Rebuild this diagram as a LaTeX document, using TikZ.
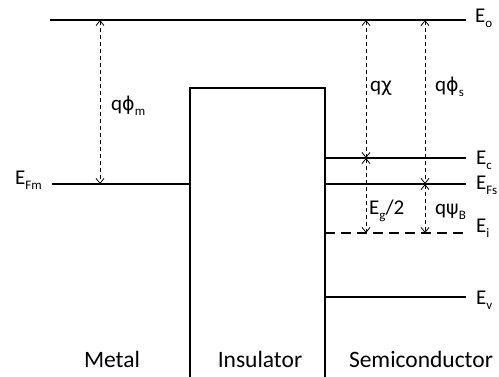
\documentclass[tikz,border=0pt]{standalone}
\usepackage{fontspec}
\setmainfont{Carlito}
\newfontfamily\grk{DejaVu Sans}
\usetikzlibrary{arrows.meta}
\newcommand\lowidx[1]{\raisebox{-0.4ex}{\fontsize{13}{13}\selectfont #1}}
\newcommand\gk[1]{{\grk\fontsize{19}{21}\selectfont #1}}
\begin{document}
\begin{tikzpicture}[x=1pt,y=-1pt,
  level/.style={line width=2pt},
  box/.style={line width=2pt},
  dimarrow/.style={line width=0.8pt, dash pattern=on 4pt off 3pt,
     {Straight Barb[length=5pt,width=8pt]}-{Straight Barb[length=5pt,width=8pt]}},
  lbl/.style={font=\fontsize{21}{25}\selectfont, inner sep=0pt, anchor=base west},
  region/.style={font=\fontsize{23.5}{28}\selectfont, inner sep=0pt, anchor=base}]
\useasboundingbox (0,0) rectangle (499,377);
% coordinates
\coordinate (e0L) at (50,20);   \coordinate (e0R) at (466,20);
\coordinate (efmL) at (52,184); \coordinate (efmR) at (190,184);
\coordinate (insBL) at (190,377); \coordinate (insTL) at (190,88);
\coordinate (insTR) at (325,88); \coordinate (insBR) at (325,377);
\coordinate (ecL) at (325,158); \coordinate (ecR) at (466,158);
\coordinate (efsL) at (325,184); \coordinate (efsR) at (466,184);
\coordinate (eiL) at (325,233); \coordinate (eiR) at (466,233);
\coordinate (evL) at (325,297); \coordinate (evR) at (466,297);
% arrow end points
\coordinate (m0) at (100,20);  \coordinate (m1) at (100,184);
\coordinate (c0) at (366,20);  \coordinate (c1) at (366,158); \coordinate (c2) at (366,233);
\coordinate (s0) at (425,20);  \coordinate (s1) at (425,184); \coordinate (s2) at (425,233);
% levels
\draw[level] (e0L) -- (e0R);
\draw[level] (efmL) -- (efmR);
\draw[box] (insBL) -- (insTL) -- (insTR) -- (insBR);
\draw[level] (ecL) -- (ecR);
\draw[level] (efsL) -- (efsR);
\draw[level, dash pattern=on 10pt off 6pt] (eiL) -- (eiR);
\draw[level] (evL) -- (evR);
% arrows
\draw[dimarrow] (m0) -- (m1);
\draw[dimarrow] (c0) -- (c1);
\draw[dimarrow] (c1) -- (c2);
\draw[dimarrow] (s0) -- (s1);
\draw[dimarrow] (s1) -- (s2);
% labels
\node[lbl] (lE0) at (475,23) {E\lowidx{o}};
\node[lbl] (lEc) at (476,165) {E\lowidx{c}};
\node[lbl] (lEfs) at (476,190) {E\lowidx{Fs}};
\node[lbl] (lEi) at (476,233) {E\lowidx{i}};
\node[lbl] (lEv) at (476,305) {E\lowidx{v}};
\node[lbl] (lEfm) at (15,185) {E\lowidx{Fm}};
\node[lbl] (lphim) at (111,111) {q\gk{ϕ}\lowidx{m}};
\node[lbl] (lchi) at (370,92) {q\gk{χ}};
\node[lbl] (lphis) at (435,92) {q\gk{ϕ}\lowidx{s}};
\node[lbl] (leg) at (369,215) {E\lowidx{g}/2};
\node[lbl] (lpsi) at (435,215) {q\gk{ψ}\lowidx{B}};
\node[region] (metal) at (112,368) {Metal};
\node[region] (ins) at (260,368) {Insulator};
\node[region] (semi) at (421,368) {Semiconductor};
\end{tikzpicture}
\end{document}
